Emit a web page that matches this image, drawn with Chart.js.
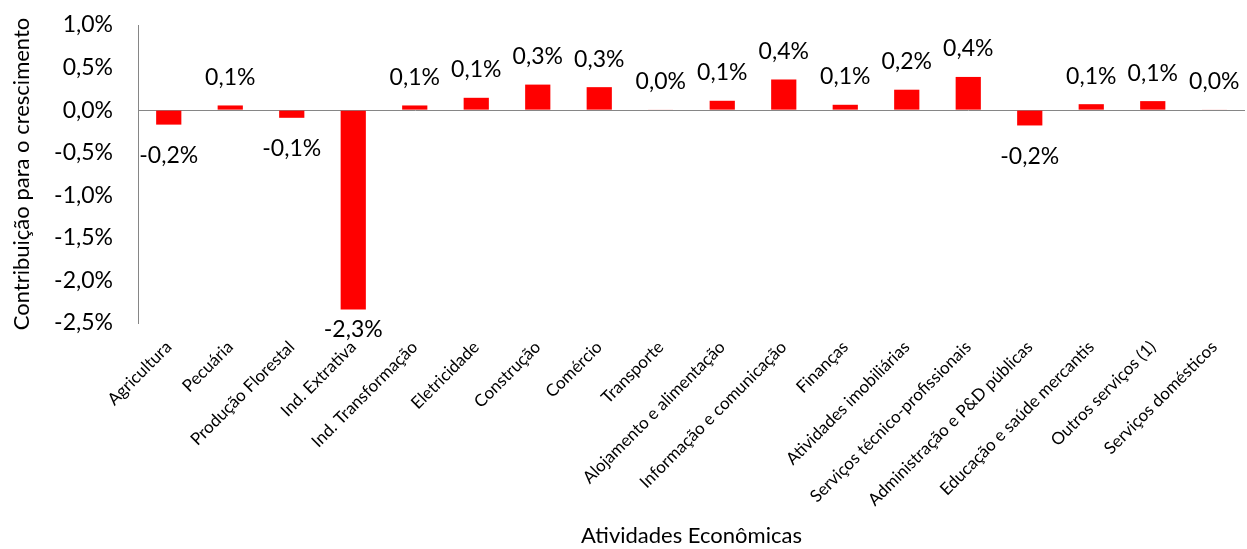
<!DOCTYPE html>
<html>
<head>
<meta charset="utf-8">
<script src="https://cdn.jsdelivr.net/npm/chart.js@4.4.0/dist/chart.umd.min.js"></script>
<style>
  html, body { margin: 0; padding: 0; background: #fff; }
  #wrap { width: 1247px; height: 549px; }
</style>
</head>
<body>
<div id="wrap"><canvas id="contribChart" width="1247" height="549"></canvas></div>
<script>
// Atividades económicas e respetivo contributo (p.p.) para o crescimento
const categories = [
  'Agricultura',
  'Pecuária',
  'Produção Florestal',
  'Ind. Extrativa',
  'Ind. Transformação',
  'Eletricidade',
  'Construção',
  'Comércio',
  'Transporte',
  'Alojamento e alimentação',
  'Informação e comunicação',
  'Finanças',
  'Atividades imobiliárias',
  'Serviços técnico-profissionais',
  'Administração e P&D públicas',
  'Educação e saúde mercantis',
  'Outros serviços (1)',
  'Serviços domésticos',
];
const contributions = [
  -0.17, 0.055, -0.09, -2.34, 0.055, 0.145, 0.30, 0.27, 0.005,
  0.11, 0.36, 0.063, 0.24, 0.39, -0.18, 0.07, 0.106, 0.005,
];
const yTicks = [-2.5, -2.0, -1.5, -1.0, -0.5, 0.0, 0.5, 1.0];

const FONT = 'Lato, "Open Sans", sans-serif';
const pct = (v) => v.toFixed(1).replace('.', ',') + '%';

// value labels above positive bars, below negative ones
const barLabels = {
  id: 'barLabels',
  afterDatasetsDraw(chart) {
    const { ctx, chartArea } = chart;
    const meta = chart.getDatasetMeta(0);
    ctx.save();
    ctx.font = '23px ' + FONT;
    ctx.fillStyle = '#000';
    ctx.textAlign = 'center';
    ctx.textBaseline = 'middle';
    meta.data.forEach((bar, i) => {
      const v = contributions[i];
      let y = v >= 0 ? bar.y - 28 : bar.y + 31;
      y = Math.min(y, chartArea.bottom + 7);
      ctx.fillText(pct(v), bar.x, y);
    });
    ctx.restore();
  },
};

new Chart(document.getElementById('contribChart'), {
  type: 'bar',
  data: {
    labels: categories,
    datasets: [{
      data: contributions,
      backgroundColor: '#ff0000',
      borderWidth: 0,
      barPercentage: 0.41,
      categoryPercentage: 1,
    }],
  },
  options: {
    responsive: false,
    animation: false,
    layout: { padding: { top: 25, right: 2, left: 0, bottom: 0 } },
    plugins: {
      legend: { display: false },
      tooltip: { enabled: false },
    },
    scales: {
      x: {
        grid: { display: false, drawTicks: false },
        border: { display: false },
        ticks: {
          autoSkip: false,
          maxRotation: 45,
          minRotation: 45,
          padding: 14,
          color: '#000',
          font: { family: FONT, size: 17 },
        },
        title: {
          display: true,
          text: 'Atividades Econômicas',
          color: '#000',
          font: { family: FONT, size: 22 },
          padding: { top: 0, bottom: 0 },
        },
        afterFit(scale) { scale.height = 226; },
      },
      y: {
        min: -2.5,
        max: 1.0,
        afterBuildTicks(scale) {
          scale.ticks = yTicks.map((v) => ({ value: v }));
        },
        grid: {
          drawTicks: true,
          tickLength: 22,
          tickColor: 'rgba(0,0,0,0)',
          color: (c) => (c.tick && c.tick.value === 0 ? '#868686' : 'rgba(0,0,0,0)'),
        },
        border: { display: true, color: '#868686' },
        ticks: {
          padding: 3,
          color: '#000',
          font: { family: FONT, size: 23 },
          callback: (v) => pct(v),
        },
        title: {
          display: true,
          text: 'Contribuição para o crescimento',
          color: '#000',
          font: { family: FONT, size: 22 },
          padding: { top: 9, bottom: 0 },
        },
        afterFit(scale) { scale.width = 138; },
      },
    },
  },
  plugins: [barLabels],
});
</script>
</body>
</html>
